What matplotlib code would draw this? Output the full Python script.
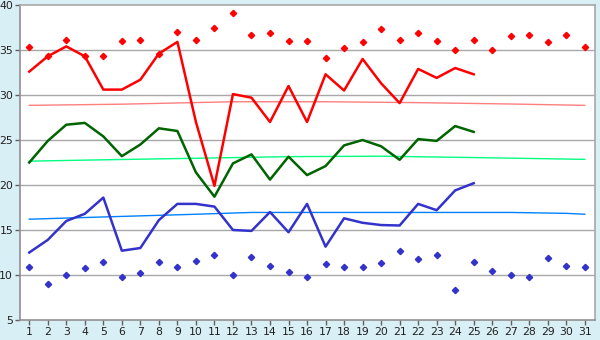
import numpy as np
import matplotlib
matplotlib.use("Agg")
import matplotlib.pyplot as plt

days = np.arange(1, 32)
line_days = np.arange(1, 26)

# upper series (line + diamonds)
red_line = [32.6, 34.3, 35.4, 34.3, 30.6, 30.6, 31.7, 34.6, 35.9, 27.0,
            19.9, 30.1, 29.7, 27.0, 31.0, 27.0, 32.3, 30.5, 34.0, 31.3,
            29.1, 32.9, 31.9, 33.0, 32.3]
red_pts = [35.3, 34.3, 36.1, 34.3, 34.3, 36.0, 36.1, 34.6, 37.0, 36.1,
           37.4, 39.1, 36.7, 36.85, 36.0, 36.0, 34.1, 35.2, 35.9, 37.3,
           36.1, 36.85, 36.0, 35.0, 36.1, 35.0, 36.55, 36.7, 35.85, 36.7, 35.3]
red_trend_days = [1, 6, 12, 17, 22, 27, 31]
red_trend = [28.85, 28.98, 29.25, 29.25, 29.15, 29.0, 28.85]

# middle series
green_line = [22.5, 24.9, 26.7, 26.9, 25.4, 23.2, 24.5, 26.3, 26.0, 21.4,
              18.7, 22.4, 23.4, 20.6, 23.15, 21.1, 22.1, 24.4, 25.0, 24.3,
              22.8, 25.1, 24.9, 26.55, 25.9]
green_trend_days = [1, 5, 10, 15, 20, 25, 31]
green_trend = [22.65, 22.8, 22.97, 23.15, 23.2, 23.05, 22.85]

# lower series (line + diamonds)
blue_line = [12.5, 13.9, 16.0, 16.8, 18.6, 12.7, 13.0, 16.1, 17.9, 17.9,
             17.6, 15.0, 14.9, 17.0, 14.75, 17.9, 13.15, 16.3, 15.8, 15.55,
             15.5, 17.9, 17.2, 19.4, 20.2]
blue_pts = [10.9, 9.0, 10.0, 10.75, 11.4, 9.75, 10.2, 11.4, 10.9, 11.55,
            12.2, 10.0, 11.95, 11.05, 10.3, 9.8, 11.2, 10.85, 10.85, 11.3,
            12.7, 11.75, 12.2, 8.3, 11.5, 10.5, 10.0, 9.75, 11.85, 11.05, 10.85]
blue_trend_days = [1, 5, 10, 13, 27, 30, 31]
blue_trend = [16.2, 16.45, 16.75, 16.95, 16.95, 16.85, 16.75]

bg = "#d9eff6"
grid_c = "#a8a8a8"

fig = plt.figure(figsize=(6, 3.4), dpi=100, facecolor=bg)
ax = fig.add_axes([20 / 600, 20 / 340, 575 / 600, 315 / 340])
ax.set_facecolor("white")

for y in range(10, 40, 5):
    ax.axhline(y, color=grid_c, lw=1, zorder=0)

# trend lines
ax.plot(red_trend_days, red_trend, color="#ff7f7f", lw=1, zorder=1)
ax.plot(green_trend_days, green_trend, color="#00ff80", lw=1, zorder=1)
ax.plot(blue_trend_days, blue_trend, color="#0080ff", lw=1, zorder=1)

# main lines
ax.plot(line_days, red_line, color="#ff0000", lw=1.8, zorder=3)
ax.plot(line_days, green_line, color="#006400", lw=1.8, zorder=3)
ax.plot(line_days, blue_line, color="#3333cc", lw=1.8, zorder=3)

# diamonds
ax.plot(days, red_pts, ls="none", marker="D", ms=3.2, color="#ff0000", zorder=4)
ax.plot(days, blue_pts, ls="none", marker="D", ms=3.2, color="#3333cc", zorder=4)

ax.set_xlim(0.5, 31.55)
ax.set_ylim(5, 40)
ax.set_xticks(days)
ax.set_yticks(range(5, 41, 5))
ax.tick_params(axis="both", length=3.5, width=1, color="#606060",
               labelsize=7.8, labelcolor="#202020", pad=1.5)

for side in ["top", "right"]:
    ax.spines[side].set_color(grid_c)
    ax.spines[side].set_linewidth(1.2)
for side in ["left", "bottom"]:
    ax.spines[side].set_color("#909090")
    ax.spines[side].set_linewidth(1.2)

plt.savefig("out.png", dpi=100, facecolor=bg)
